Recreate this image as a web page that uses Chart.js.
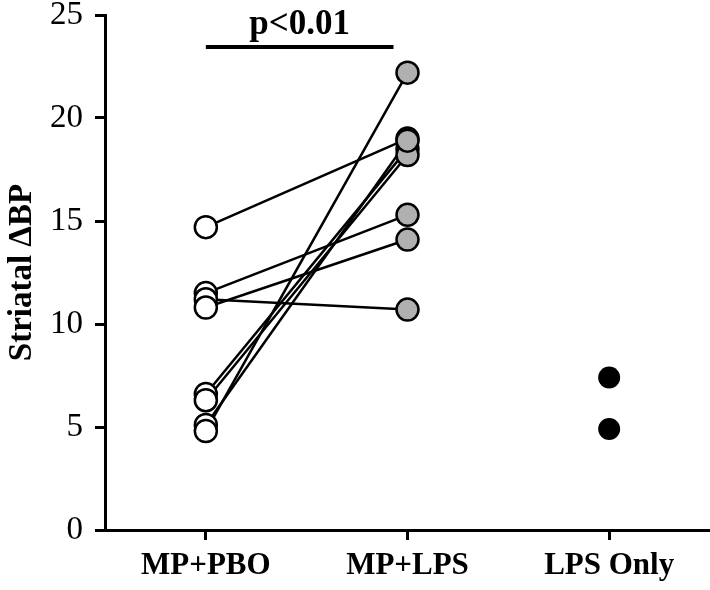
<!DOCTYPE html>
<html>
<head>
<meta charset="utf-8">
<script src="https://cdn.jsdelivr.net/npm/chart.js@4"></script>
<style>
  html, body { margin: 0; padding: 0; background: #fff; overflow: hidden; }
  #wrap { width: 710px; height: 590px; }
  #chart { display: block; }
</style>
</head>
<body>
<div id="wrap"><canvas id="chart" width="710" height="590"></canvas></div>
<script>
const categories = ["MP+PBO", "MP+LPS", "LPS Only"];
const yTicks = [0, 5, 10, 15, 20, 25];
// paired subjects: MP+PBO -> MP+LPS
const pboValues = [14.7, 11.5, 11.2, 10.8, 6.6, 6.3, 5.1, 4.8];
const lpsValues = [19.0, 15.3, 10.7, 14.1, 18.5, 18.2, 18.9, 22.2];
const lpsOnlyValues = [7.4, 4.9];
const sigLabel = "p<0.01";
const sigLevel = 23.45;

const serif = "'Liberation Serif', 'DejaVu Serif', serif";

// significance bar drawn over the plot
const sigBar = {
  id: "sigBar",
  afterDatasetsDraw(chart) {
    const { ctx, scales } = chart;
    const x1 = scales.x.getPixelForValue(0);
    const x2 = scales.x.getPixelForValue(1) - 14;
    const y = scales.y.getPixelForValue(sigLevel);
    ctx.save();
    ctx.strokeStyle = "#000";
    ctx.lineWidth = 4;
    ctx.beginPath();
    ctx.moveTo(x1, y);
    ctx.lineTo(x2, y);
    ctx.stroke();
    ctx.fillStyle = "#000";
    ctx.font = "bold 35px " + serif;
    ctx.textAlign = "center";
    ctx.textBaseline = "alphabetic";
    ctx.fillText(sigLabel, (x1 + x2) / 2, y - 13);
    ctx.restore();
  }
};

const datasets = [];

// connecting lines first (behind points)
pboValues.forEach((v, i) => {
  datasets.push({
    type: "line",
    data: [{ x: categories[0], y: v }, { x: categories[1], y: lpsValues[i] }],
    borderColor: "#000",
    borderWidth: 2.5,
    pointRadius: 0,
    order: 2
  });
});

datasets.push({
  type: "line",
  data: pboValues.map(v => ({ x: categories[0], y: v })),
  showLine: false,
  pointRadius: 11,
  pointBorderWidth: 2.5,
  pointBackgroundColor: "#fff",
  pointBorderColor: "#000",
  order: 1
});
datasets.push({
  type: "line",
  data: lpsValues.map(v => ({ x: categories[1], y: v })),
  showLine: false,
  pointRadius: 11,
  pointBorderWidth: 2.5,
  pointBackgroundColor: "#b0b0b0",
  pointBorderColor: "#000",
  order: 1
});
datasets.push({
  type: "line",
  data: lpsOnlyValues.map(v => ({ x: categories[2], y: v })),
  showLine: false,
  pointRadius: 11,
  pointBorderWidth: 0,
  pointBackgroundColor: "#000",
  pointBorderColor: "#000",
  order: 1
});

new Chart(document.getElementById("chart"), {
  type: "line",
  data: { labels: categories, datasets: datasets },
  options: {
    responsive: false,
    animation: false,
    layout: { padding: 0, autoPadding: false },
    plugins: { legend: { display: false }, tooltip: { enabled: false } },
    scales: {
      x: {
        type: "category",
        offset: true,
        afterFit: axis => { axis.height = 60; axis.paddingLeft = 0; axis.paddingRight = 0; },
        grid: { display: true, drawOnChartArea: false, tickLength: 10, lineWidth: 3, color: "#000", offset: false },
        border: { display: true, color: "#000", width: 3 },
        ticks: { color: "#000", font: { family: serif, size: 31, weight: "bold", lineHeight: 1 }, padding: 10 }
      },
      y: {
        min: 0,
        max: 25,
        afterBuildTicks: axis => { axis.ticks = yTicks.map(v => ({ value: v })); },
        afterFit: axis => { axis.width = 105; axis.paddingTop = 15; axis.paddingBottom = 0; },
        grid: { display: true, drawOnChartArea: false, tickLength: 10, lineWidth: 3, color: "#000" },
        border: { display: true, color: "#000", width: 3 },
        ticks: { color: "#000", font: { family: serif, size: 33, lineHeight: 1 }, padding: 12 },
        title: { display: true, text: "Striatal \u0394BP", color: "#000", font: { family: serif, size: 33, weight: "bold", lineHeight: 1 }, padding: { top: 6, bottom: 0 } }
      }
    }
  },
  plugins: [sigBar]
});
</script>
</body>
</html>
